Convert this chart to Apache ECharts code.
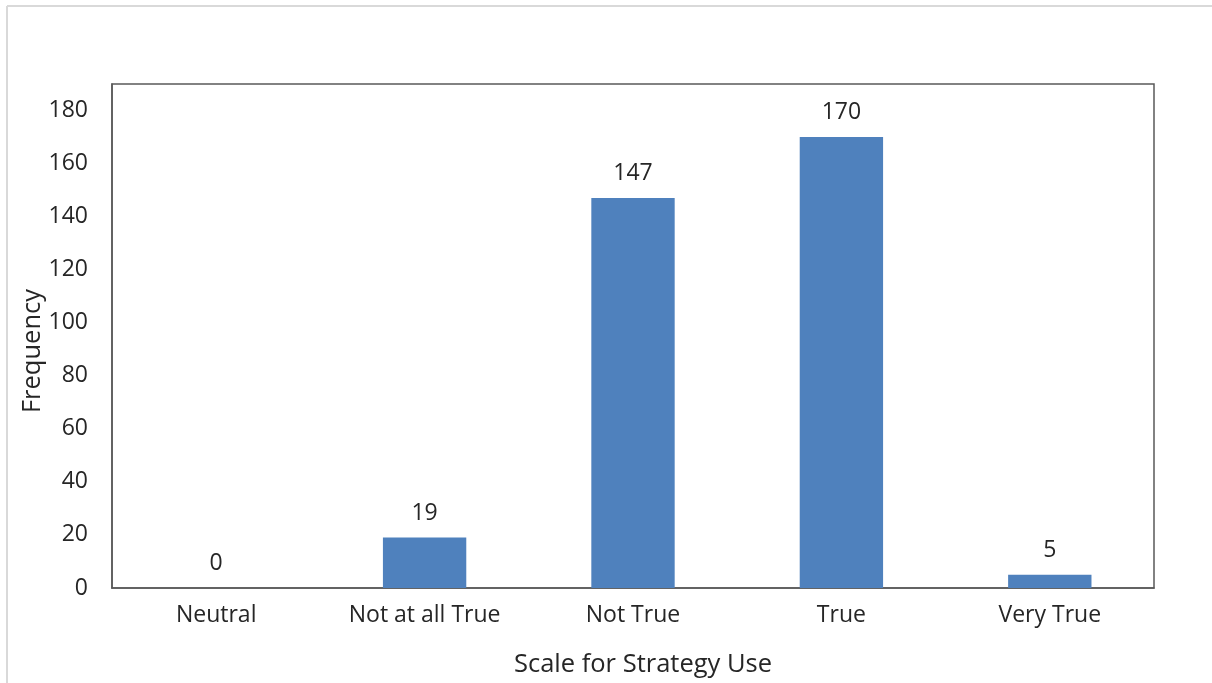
<!DOCTYPE html>
<html><head><meta charset="utf-8">
<script src="https://cdn.jsdelivr.net/npm/echarts@6/dist/echarts.min.js"></script>
<style>html,body{margin:0;padding:0;background:#fff}#c{width:1212px;height:683px}</style>
</head><body><div id="c"></div>
<script>
const categories = ['Neutral', 'Not at all True', 'Not True', 'True', 'Very True'];
const frequency = [0, 19, 147, 170, 5];
const xTitle = 'Scale for Strategy Use';
const yTitle = 'Frequency';

const chart = echarts.init(document.getElementById('c'), null, {renderer: 'canvas'});
const txt = '#262626';
const font = '"Open Sans", sans-serif';
chart.setOption({
  backgroundColor: '#fff',
  animation: false,
  graphic: [
    {type: 'line', shape: {x1: 7, y1: 6, x2: 1212, y2: 6}, style: {stroke: '#d9d9d9', lineWidth: 2}},
    {type: 'line', shape: {x1: 7, y1: 6, x2: 7, y2: 683}, style: {stroke: '#d9d9d9', lineWidth: 2}}
  ],
  grid: {left: 112, right: 58, top: 84, bottom: 95, show: true, borderColor: '#595959', borderWidth: 1.5},
  xAxis: {
    type: 'category', data: categories,
    axisLine: {show: true, lineStyle: {color: '#595959', width: 1.5}},
    axisTick: {show: false},
    axisLabel: {color: txt, fontSize: 23, fontFamily: font, margin: 16},
    name: xTitle, nameLocation: 'middle', nameGap: 64, nameMoveOverlap: false,
    nameTextStyle: {color: txt, fontSize: 25.5, fontFamily: font, padding: [0, 0, 0, 20]}
  },
  yAxis: {
    type: 'value', min: 0, max: 190, interval: 20,
    splitLine: {show: false},
    axisLine: {show: true, lineStyle: {color: '#595959', width: 1.5}},
    axisTick: {show: false},
    axisLabel: {color: txt, fontSize: 23, fontFamily: font, margin: 24, showMaxLabel: false},
    name: yTitle, nameLocation: 'middle', nameGap: 66, nameRotate: 90, nameMoveOverlap: false,
    nameTextStyle: {color: txt, fontSize: 25.5, fontFamily: font, padding: [0, 30, 0, 0]}
  },
  series: [{
    type: 'bar', data: frequency, barWidth: '40%',
    itemStyle: {color: '#4F81BD'},
    label: {show: true, position: 'top', distance: 13, color: txt, fontSize: 23, fontFamily: font}
  }]
});
</script></body></html>
